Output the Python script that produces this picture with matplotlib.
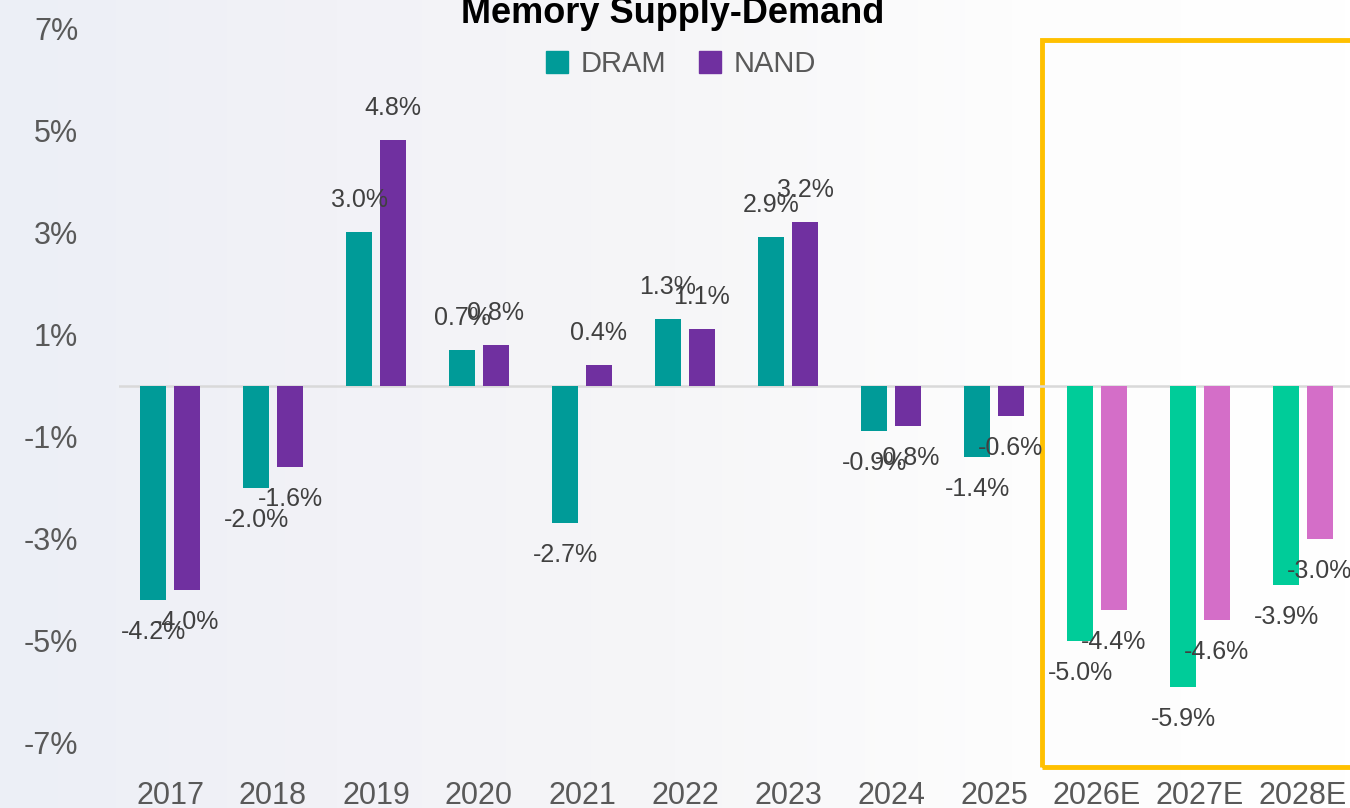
import numpy as np
import matplotlib
matplotlib.use("Agg")
import matplotlib.pyplot as plt
from matplotlib.patches import Rectangle, Patch

plt.rcParams['font.family'] = ['Liberation Sans', 'DejaVu Sans']

categories = ['2017', '2018', '2019', '2020', '2021', '2022', '2023', '2024', '2025',
              '2026E', '2027E', '2028E']
dram = [-4.2, -2.0, 3.0, 0.7, -2.7, 1.3, 2.9, -0.9, -1.4, -5.0, -5.9, -3.9]
nand = [-4.0, -1.6, 4.8, 0.8, 0.4, 1.1, 3.2, -0.8, -0.6, -4.4, -4.6, -3.0]
forecast = [False] * 9 + [True] * 3
yticks = [-7, -5, -3, -1, 1, 3, 5, 7]

DRAM_C, NAND_C = '#009B98', '#7030A0'
DRAM_F, NAND_F = '#00CC99', '#D46EC8'
TXT = '#595959'
LBL = '#404040'

W, H = 1350, 808
fig = plt.figure(figsize=(W / 100, H / 100), dpi=100)

# faded background
bg = fig.add_axes([0, 0, 1, 1], zorder=-5)
grad = np.linspace(0, 1, 256)[None, :]
from matplotlib.colors import LinearSegmentedColormap
cmap = LinearSegmentedColormap.from_list('bg', ['#ECEFF6', '#F2F2F7', '#F6F6F8', '#FDFDFD', '#FFFFFF'])
bg.imshow(grad, aspect='auto', cmap=cmap, extent=[0, 1, 0, 1])
bg.axis('off')

ax = fig.add_axes([118.5 / W, (H - 743) / H, 1236 / W, 715 / H])
ax.patch.set_alpha(0)

x = np.arange(len(categories))
bw = 0.26
off = 0.165
dc = [DRAM_F if f else DRAM_C for f in forecast]
nc = [NAND_F if f else NAND_C for f in forecast]
b1 = ax.bar(x - off, dram, bw, color=dc, zorder=3)
b2 = ax.bar(x + off, nand, bw, color=nc, zorder=3)

ax.axhline(0, color='#D9D9D9', lw=1.8, zorder=2)

for bars, vals in ((b1, dram), (b2, nand)):
    for b, v in zip(bars, vals):
        cx = b.get_x() + b.get_width() / 2
        dy = 23 if v > 0 else -23
        ax.annotate(f"{v:.1f}%", (cx, v), xytext=(0, dy), textcoords='offset points',
                    ha='center', va='center', fontsize=18, color=LBL, zorder=5)

ax.set_xlim(-0.5, len(categories) - 0.5)
ax.set_ylim(-7, 7)
ax.set_yticks(yticks)
ax.set_yticklabels([f"{t}%" for t in yticks])
ax.set_xticks(x)
ax.set_xticklabels(categories)
ax.tick_params(axis='y', length=0, pad=29, labelsize=22, labelcolor=TXT)
ax.tick_params(axis='x', length=0, pad=27, labelsize=22, labelcolor=TXT)
for s in ax.spines.values():
    s.set_visible(False)

# forecast highlight box
ax.add_patch(Rectangle((8.47, -7.47), 3.6, 14.24, fill=False, ec='#FFC000', lw=3.5,
                       clip_on=False, zorder=1))

fig.text(673 / W, 1 - 23 / H, 'Memory Supply-Demand', ha='center', va='baseline',
         fontsize=26, fontweight='bold', color='black')

handles = [Patch(color=DRAM_C, label='DRAM'), Patch(color=NAND_C, label='NAND')]
leg = fig.legend(handles=handles, loc='center', bbox_to_anchor=(681 / W, 1 - 64 / H),
                 ncol=2, frameon=False, fontsize=21, handlelength=0.76, handleheight=0.76,
                 handletextpad=0.45, columnspacing=1.1)
for t in leg.get_texts():
    t.set_color(TXT)

fig.savefig('out.png', dpi=100)
